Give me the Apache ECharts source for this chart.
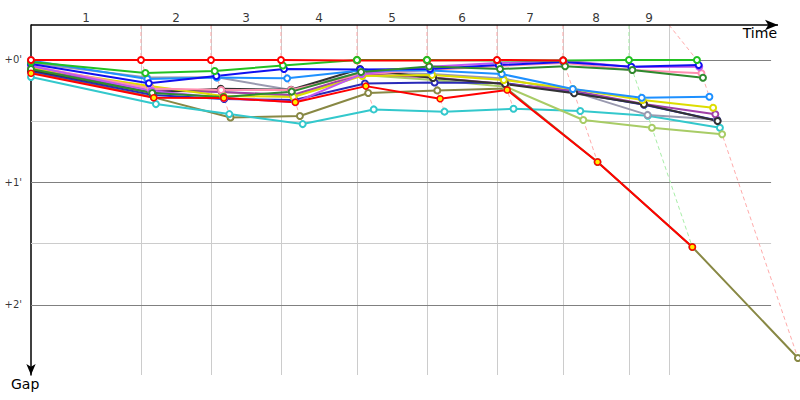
<!DOCTYPE html>
<html><head><meta charset="utf-8">
<script src="https://cdn.jsdelivr.net/npm/echarts@6/dist/echarts.min.js"></script>
<style>html,body{margin:0;padding:0;background:#fff}#c{width:800px;height:400px}</style>
</head><body><div id="c"></div>
<script>
// ---- data (seconds) ----
const lapLabels = ['1','2','3','4','5','6','7','8','9'];
const lapBoundaryTimes = [159, 260.2, 361.4, 471.3, 572.5, 673.7, 769.1, 864.5, 922.4];
const leaderTimes = [0, 159, 260.2, 361.4, 471.3, 572.5, 673.7, 769.1, 864.5, 962.8];
const gapTicks = [0, 60, 120];
const gapTickLabels = ["+0'", "+1'", "+2'"];
const gapMinorTicks = [30, 90];

const gapsOlive      = [5.9, 18.3, 28.2, 27.4, 16.2, 14.9, 14.0, 50.0, 91.6, 146.0];
const gapsCyan       = [8.3, 21.6, 26.5, 31.4, 24.2, 25.3, 23.9, 25.0, 27.3, 33.2];
const gapsYellowGreen= [4.4, 13.7, 15.7, 17.6, 7.3, 9.8, 13.1, 29.4, 33.2, 36.4];
const gapsGray       = [1.5, 8.6, 8.5, 14.7, 6.1, 6.9, 9.1, 15.6, 26.9, 29.1];
const gapsNavy       = [5.4, 17.1, 19.1, 19.6, 11.5, 11.0, 11.3, 15.9, 21.9, 29.6];
const gapsMagenta    = [3.9, 15.0, 15.7, 17.1, 6.9, 8.6, 11.8, 15.0, 21.6, 26.6];
const gapsDark       = [4.9, 15.9, 14.1, 14.6, 4.4, 8.8, 11.8, 16.3, 21.7, 29.9];
const gapsYellow     = [3.9, 12.7, 17.6, 18.1, 7.8, 7.3, 9.8, 14.2, 19.6, 23.4];
const gapsPink       = [2.9, 14.0, 14.7, 14.7, 6.9, 4.9, 2.9, 1.5, 4.9, 6.5];
const gapsViolet     = [2.9, 15.2, 18.6, 20.7, 6.9, 3.3, 1.5, 0.2, 3.4, 3.3];
const gapsDodger     = [0.2, 9.3, 8.6, 9.0, 5.1, 5.1, 6.9, 14.2, 18.5, 18.0];
const gapsBlue       = [2.0, 11.4, 7.8, 4.4, 4.7, 4.4, 2.5, 1.0, 3.3, 2.5];
const gapsDarkGreen  = [4.4, 16.2, 18.1, 15.5, 5.9, 3.2, 4.4, 3.1, 4.9, 8.7];
const gapsGreen      = [1.0, 6.4, 5.4, 2.7, 0, 0, 0.2, 0.2, 0, 0];
const gapsRedYellow  = [6.5, 18.5, 18.6, 20.7, 12.8, 19.0, 14.7, 50.0, 91.6];
const gapsRed        = [0, 0, 0, 0, 0.2, 0.2, 0, 0.2];

const cars = [
  ['Olive', gapsOlive], ['Cyan', gapsCyan], ['YellowGreen', gapsYellowGreen],
  ['Gray', gapsGray], ['Navy', gapsNavy], ['Magenta', gapsMagenta], ['Dark', gapsDark],
  ['Yellow', gapsYellow], ['Pink', gapsPink], ['Violet', gapsViolet], ['Dodger', gapsDodger],
  ['Blue', gapsBlue], ['DarkGreen', gapsDarkGreen], ['Green', gapsGreen],
  ['RedYellow', gapsRedYellow], ['Red', gapsRed]
];

// ---- styles ----
const carColors = {
  Olive:'#888844', Cyan:'#33c8cc', YellowGreen:'#a8cc66', Gray:'#9a9ab0', Navy:'#2a2ab8',
  Magenta:'#a040a8', Dark:'#333333', Yellow:'#dddd00', Pink:'#ff8fb0', Violet:'#c058f0',
  Dodger:'#1e90ff', Blue:'#1010f0', DarkGreen:'#2e8b2e', Green:'#22c022',
  RedYellow:'#ff0000', Red:'#ff0000'
};
const lapLineColors = ['#ffabab','#ffabab','#ffabab','#ffabab','#ffabab','#ffabab','#ffabab','#a8eea8','#ffabab'];
const FONT = '"DejaVu Sans", Verdana, sans-serif';
const Y_MIN = -17.14, Y_MAX = 154.3, AXIS_END = 1080, X_MAX = 1111.8, GRID_END = 1070, LAP_LABEL_Y = -20.6;

const chart = echarts.init(document.getElementById('c'), null, {renderer: 'svg'});
const series = [];
const toPoints = gaps => gaps.map((g, lap) => [lap === 0 ? 0 : leaderTimes[lap] + g, g]);

// grid lines
const markData = [];
lapBoundaryTimes.forEach(t => markData.push([{coord: [t, Y_MIN], lineStyle: {color: '#cccccc'}}, {coord: [t, Y_MAX]}]));
gapMinorTicks.forEach(g => markData.push([{coord: [0, g], lineStyle: {color: '#cccccc'}}, {coord: [GRID_END, g]}]));
gapTicks.forEach(g => markData.push([{coord: [0, g], lineStyle: {color: '#808080'}}, {coord: [GRID_END, g]}]));
series.push({
  type: 'line', data: [], silent: true, z: 1,
  markLine: {silent: true, z: 1, symbol: ['none', 'none'], animation: false, label: {show: false},
    lineStyle: {type: 'solid', width: 1}, emphasis: {disabled: true}, data: markData}
});
// time axis line with arrow
series.push({
  type: 'line', data: [], silent: true, z: 6,
  markLine: {silent: true, z: 6, symbol: ['none', 'arrow'], symbolSize: [8, 13], animation: false, label: {show: false},
    lineStyle: {type: 'solid', width: 1.5, color: '#000'}, emphasis: {disabled: true},
    data: [[{coord: [0, Y_MIN]}, {coord: [AXIS_END, Y_MIN]}]]}
});

// y tick labels
series.push({
  type: 'scatter', silent: true, clip: false, symbolSize: 0, z: 5,
  data: gapTicks.map((g, i) => ({value: [0, g], label: {formatter: gapTickLabels[i]}})),
  label: {show: true, position: 'left', distance: 9, fontSize: 10, fontFamily: FONT, color: '#000'}
});
// lap labels
const bounds = [0].concat(lapBoundaryTimes);
series.push({
  type: 'scatter', silent: true, clip: false, symbolSize: 0, z: 5,
  data: lapLabels.map((l, i) => ({value: [(bounds[i] + bounds[i + 1]) / 2, LAP_LABEL_Y], label: {formatter: l}})),
  label: {show: true, position: 'inside', fontSize: 12, fontFamily: FONT, color: '#000'}
});

// lap (dashed) lines
lapLabels.forEach((l, i) => {
  const lap = i + 1;
  let maxGap = 0;
  cars.forEach(c => { if (c[1].length > lap && c[1][lap] > maxGap) maxGap = c[1][lap]; });
  series.push({
    type: 'line', silent: true, clip: false, symbol: 'none', z: 2,
    data: [[lapBoundaryTimes[i], Y_MIN], [leaderTimes[lap], 0], [leaderTimes[lap] + maxGap, maxGap]],
    lineStyle: {color: lapLineColors[i], width: 1, type: [4, 3]}
  });
});

// cars
cars.forEach(([name, gaps]) => {
  const col = carColors[name];
  const isRY = name === 'RedYellow';
  series.push({
    type: 'line', name, clip: false, z: 3,
    data: toPoints(gaps),
    symbol: isRY ? 'circle' : 'emptyCircle', symbolSize: 6,
    lineStyle: {width: 2, color: col},
    itemStyle: isRY ? {color: '#ffee00', borderColor: '#ff0000', borderWidth: 1.5} : {color: col, borderWidth: 1.5}
  });
});
// leader (green) markers drawn above the red line
series.push({
  type: 'line', name: 'GreenMarks', clip: false, z: 3, silent: true,
  data: toPoints(gapsGreen).slice(4, 6),
  symbol: 'emptyCircle', symbolSize: 6,
  lineStyle: {width: 0, opacity: 0},
  itemStyle: {color: carColors.Green, borderWidth: 1.5}
});

chart.setOption({
  animation: false,
  grid: {left: 31, right: 0, top: 25, bottom: 25, containLabel: false, outerBoundsMode: 'none'},
  xAxis: {type: 'value', position: 'top', min: 0, max: X_MAX,
    axisLine: {show: false}, axisTick: {show: false}, axisLabel: {show: false}, splitLine: {show: false}},
  yAxis: {type: 'value', inverse: true, min: Y_MIN, max: Y_MAX,
    axisLine: {show: true, onZero: false, lineStyle: {color: '#000', width: 1.5}, symbol: ['arrow', 'none'], symbolSize: [7, 11]},
    axisTick: {show: false}, axisLabel: {show: false}, splitLine: {show: false}},
  graphic: [
    {type: 'text', right: 23, top: 26, style: {text: 'Time', font: '14px ' + FONT, fill: '#000'}},
    {type: 'text', left: 11, top: 377, style: {text: 'Gap', font: '14px ' + FONT, fill: '#000'}}
  ],
  series
});
</script></body></html>
